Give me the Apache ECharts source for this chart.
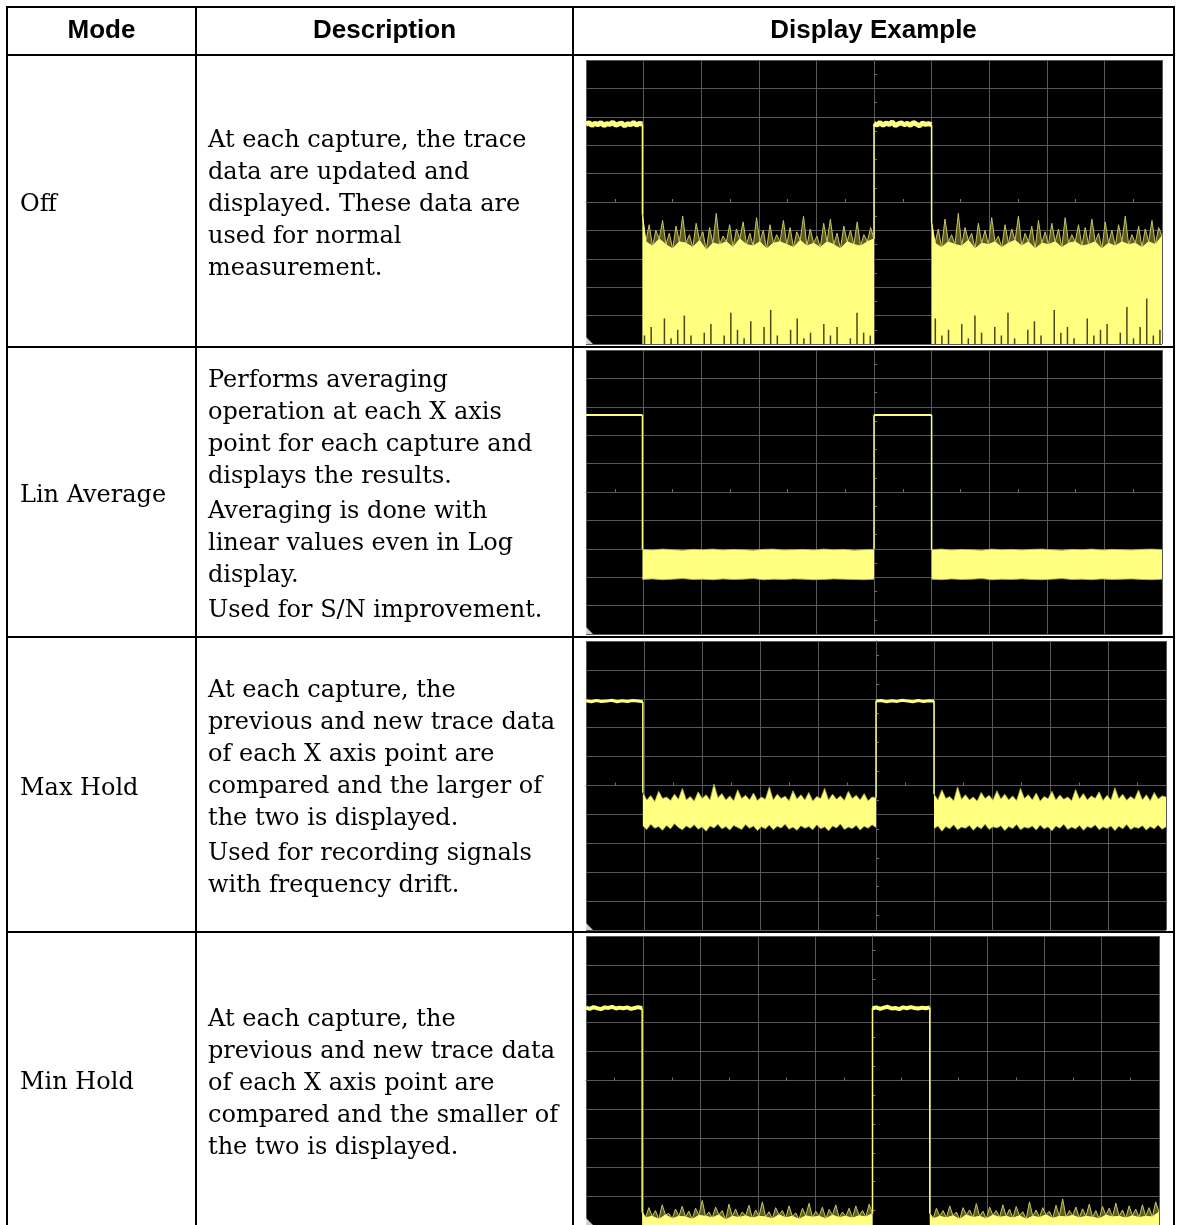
<!DOCTYPE html>
<html>
<head>
<meta charset="utf-8">
<script src="https://cdn.jsdelivr.net/npm/echarts@6.0.0/dist/echarts.min.js"></script>
<style>
html,body{margin:0;padding:0;background:#fff;}
#main{width:1179px;height:1225px;}
</style>
</head>
<body>
<div id="main"></div>
<script>
// ---- table text ----
var headers = ['Mode', 'Description', 'Display Example'];
var modes = ['Off', 'Lin Average', 'Max Hold', 'Min Hold'];
var descriptions = [
  [['At each capture, the trace', 'data are updated and', 'displayed. These data are', 'used for normal', 'measurement.']],
  [['Performs averaging', 'operation at each X axis', 'point for each capture and', 'displays the results.'],
   ['Averaging is done with', 'linear values even in Log', 'display.'],
   ['Used for S/N improvement.']],
  [['At each capture, the', 'previous and new trace data', 'of each X axis point are', 'compared and the larger of', 'the two is displayed.'],
   ['Used for recording signals', 'with frequency drift.']],
  [['At each capture, the', 'previous and new trace data', 'of each X axis point are', 'compared and the smaller of', 'the two is displayed.']]
];

// ---- trace data, in screen divisions (x: 0..10 left->right, y: 0..10 bottom->top) ----
var pulseEdges = [0.98, 5.0, 6.0];   // fall, rise, fall

var offHighA = [7.74,7.79,7.7,7.77,7.72,7.8,7.69,7.76,7.73,7.81,7.7,7.75,7.78,7.68,7.76,7.72,7.8,7.71,7.77,7.74];
var offHighB = [7.76,7.71,7.8,7.7,7.78,7.73,7.82,7.69,7.75,7.79,7.72,7.77,7.7,7.8,7.74,7.68,7.78,7.73,7.76,7.72];
var offNoiseA = [4.55,3.6,4.2,3.45,4.0,3.7,4.35,3.5,3.9,3.35,4.15,3.6,4.5,3.55,3.85,3.4,4.25,3.65,3.95,3.3,4.1,3.55,4.6,3.5,3.8,3.6,4.2,3.4,4.05,3.7,4.3,3.5,3.9,3.45,4.45,3.6,4.0,3.35,4.2,3.55,3.85,3.6,4.35,3.5,4.1,3.4,3.95,3.65,4.5,3.45,4.05,3.55,3.8,3.4,4.25,3.6,4.4,3.5,3.9,3.35,4.15,3.6,4.0,3.5,4.3,3.45,3.85,3.6,4.1,3.7];
var offNoiseB = [4.3,3.55,4.05,3.4,4.4,3.6,3.85,3.5,4.6,3.45,4.1,3.65,3.9,3.35,4.25,3.55,4.0,3.5,4.45,3.6,3.8,3.4,4.2,3.55,4.05,3.65,4.5,3.45,3.9,3.6,4.15,3.35,4.35,3.55,3.95,3.5,4.25,3.6,4.05,3.4,4.45,3.55,3.85,3.6,4.2,3.45,4.1,3.5,4.4,3.6,3.9,3.35,4.3,3.55,4.0,3.45,4.2,3.6,4.5,3.5,3.85,3.55,4.15,3.4,4.05,3.6,4.35,3.5,4.1,3.8];
var offDipsA = [0.3,0.6,0,0.9,0.2,0.5,1.0,0.3,0,0.4,0.7,0,0.3,1.1,0.5,0.2,0.8,0,0.6,1.2,0.3,0,0.5,0.9,0.2,0.4,0,0.7,0.3,0.6,0,0.2,1.1,0.4,0.3];
var offDipsB = [0.9,0.3,0.5,0,0.7,0.2,1.0,0.4,0,0.6,0.3,1.1,0.2,0,0.5,0.8,0.3,0,1.2,0.4,0.6,0.2,0,0.9,0.3,0.5,0.7,0,0.4,1.3,0.2,0.6,1.6,0.3,0.5];

var linHighA = [7.71, 7.71];
var linHighB = [7.71, 7.71];
var linUpperA = [2.98,2.96,2.99,2.97,2.95,2.98,2.97,2.99,2.96,2.98,2.97,2.95,2.98,2.99,2.96,2.97,2.98,2.96,2.99,2.97,2.98,2.95,2.97,2.98];
var linLowerA = [1.92,1.94,1.91,1.93,1.95,1.92,1.93,1.91,1.94,1.92,1.93,1.95,1.91,1.93,1.92,1.94,1.93,1.91,1.92,1.94,1.93,1.92,1.91,1.93];
var linUpperB = [2.97,2.99,2.96,2.98,2.97,2.95,2.99,2.97,2.98,2.96,2.98,2.99,2.97,2.95,2.98,2.97,2.99,2.96,2.98,2.97,2.96,2.98,2.99,2.97];
var linLowerB = [1.93,1.91,1.94,1.92,1.93,1.95,1.91,1.93,1.92,1.94,1.92,1.91,1.93,1.95,1.92,1.93,1.91,1.94,1.92,1.93,1.94,1.92,1.91,1.93];

var maxHighA = [7.93,7.9,7.94,7.91,7.92,7.95,7.9,7.93,7.91,7.94,7.92,7.9];
var maxHighB = [7.92,7.94,7.9,7.93,7.91,7.95,7.92,7.9,7.94,7.91,7.93,7.92];
var maxUpperA = [4.75,4.5,4.65,4.45,4.8,4.55,4.6,4.48,4.7,4.52,4.9,4.5,4.62,4.46,4.78,4.55,4.68,4.5,5.05,4.58,4.72,4.5,4.64,4.47,4.85,4.55,4.66,4.5,4.74,4.48,4.6,4.52,4.95,4.5,4.7,4.55,4.63,4.47,4.82,4.53,4.68,4.5,4.76,4.46,4.62,4.55,4.9,4.5,4.7,4.52,4.64,4.48,4.8,4.55,4.66,4.5,4.72,4.47,4.6,4.58];
var maxLowerA = [3.6,3.48,3.66,3.52,3.58,3.45,3.62,3.5,3.68,3.55,3.47,3.6,3.52,3.64,3.49,3.57,3.42,3.6,3.53,3.66,3.5,3.58,3.46,3.62,3.55,3.48,3.65,3.52,3.6,3.44,3.57,3.5,3.63,3.47,3.59,3.53,3.66,3.49,3.56,3.45,3.61,3.52,3.58,3.47,3.64,3.5,3.57,3.43,3.6,3.53,3.67,3.48,3.56,3.51,3.62,3.46,3.59,3.52,3.64,3.55];
var maxUpperB = [4.7,4.5,4.85,4.55,4.62,4.47,4.95,4.52,4.68,4.5,4.6,4.46,4.76,4.55,4.66,4.49,4.82,4.53,4.7,4.5,4.64,4.48,4.9,4.55,4.68,4.5,4.74,4.46,4.62,4.54,4.8,4.5,4.67,4.52,4.6,4.47,4.86,4.53,4.72,4.5,4.64,4.55,4.78,4.48,4.66,4.5,4.92,4.54,4.7,4.49,4.62,4.52,4.84,4.5,4.68,4.47,4.76,4.53,4.64,4.6];
var maxLowerB = [3.5,3.6,3.42,3.58,3.5,3.64,3.47,3.56,3.52,3.62,3.45,3.59,3.5,3.66,3.48,3.57,3.53,3.61,3.44,3.58,3.51,3.65,3.47,3.56,3.52,3.6,3.46,3.63,3.5,3.57,3.43,3.6,3.52,3.66,3.48,3.56,3.5,3.62,3.45,3.58,3.53,3.64,3.47,3.57,3.51,3.6,3.44,3.59,3.5,3.65,3.48,3.56,3.52,3.61,3.46,3.58,3.5,3.63,3.49,3.57];

var minHighA = [7.52,7.48,7.54,7.5,7.47,7.53,7.51,7.55,7.49,7.52,7.5,7.53,7.48,7.51,7.54,7.5];
var minHighB = [7.5,7.53,7.48,7.52,7.55,7.49,7.51,7.47,7.53,7.5,7.54,7.51,7.49,7.52,7.5,7.53];
var minNoiseA = [0.45,0.25,0.6,0.3,0.5,0.2,0.7,0.35,0.4,0.22,0.55,0.3,0.65,0.28,0.48,0.2,0.58,0.33,0.85,0.3,0.45,0.25,0.62,0.35,0.5,0.18,0.72,0.3,0.55,0.26,0.45,0.32,0.68,0.24,0.52,0.3,0.8,0.28,0.46,0.22,0.6,0.35,0.5,0.25,0.66,0.3,0.42,0.2,0.58,0.32,0.75,0.27,0.48,0.3,0.62,0.22,0.54,0.34,0.7,0.26,0.45,0.3,0.58,0.24,0.66,0.32,0.5,0.28,0.72,0.4];
var minNoiseB = [0.4,0.22,0.58,0.3,0.5,0.25,0.66,0.32,0.45,0.2,0.6,0.35,0.52,0.26,0.74,0.3,0.48,0.22,0.62,0.34,0.5,0.27,0.7,0.3,0.55,0.24,0.64,0.32,0.46,0.2,0.8,0.3,0.52,0.26,0.6,0.35,0.48,0.23,0.68,0.3,0.9,0.28,0.5,0.33,0.62,0.25,0.56,0.3,0.72,0.27,0.5,0.22,0.64,0.34,0.58,0.28,0.76,0.3,0.52,0.24,0.66,0.32,0.55,0.26,0.7,0.3,0.6,0.28,0.8,0.45];

// ---- layout ----
var colX = [7, 196, 573, 1174];
var rowY = [7, 55, 347, 637, 932];
var labelBase = [212, 503, 796, 1090];
var descBase = [148, 388, 698, 1027];
var panels = [
  {left: 586, top: 60, width: 576, height: 284, hiWidth: 5},
  {left: 586, top: 350, width: 576, height: 284, hiWidth: 2},
  {left: 586, top: 641, width: 580, height: 289, hiWidth: 3},
  {left: 586, top: 936, width: 573, height: 289, hiWidth: 4}
];

var YELLOW = '#ffff80';
var SPIKE = '#c8c65a';
var SPIKEFILL = '#5e5c24';
var OLIVE = '#b3b14e';
var GRIDC = '#585858';
var serif = '24px "DejaVu Serif"';

function spread(x0, x1, arr) {
  return arr.map(function (v, k) { return [x0 + (x1 - x0) * k / (arr.length - 1), v]; });
}
function odd(pts) { return pts.filter(function (p, k) { return k % 2 === 1; }); }

var chart = echarts.init(document.getElementById('main'));

// table lines + text
var graphic = [];
colX.forEach(function (x) {
  graphic.push({type: 'line', shape: {x1: x, y1: rowY[0] - 1, x2: x, y2: 1225}, style: {stroke: '#000', lineWidth: 2}});
});
rowY.forEach(function (y) {
  graphic.push({type: 'line', shape: {x1: colX[0] - 1, y1: y, x2: colX[3] + 1, y2: y}, style: {stroke: '#000', lineWidth: 2}});
});
headers.forEach(function (h, i) {
  graphic.push({type: 'text', x: (colX[i] + colX[i + 1]) / 2, y: 31,
    style: {text: h, font: 'bold 26px "Liberation Sans"', fill: '#000', align: 'center', verticalAlign: 'middle'}});
});
modes.forEach(function (m, i) {
  graphic.push({type: 'text', x: 20, y: labelBase[i] - 7,
    style: {text: m, font: serif, fill: '#000', align: 'left', verticalAlign: 'middle'}});
});
descriptions.forEach(function (paras, i) {
  var y = descBase[i];
  paras.forEach(function (lines, p) {
    if (p > 0) y += 3;
    lines.forEach(function (ln) {
      graphic.push({type: 'text', x: 208, y: y - 7,
        style: {text: ln, font: serif, fill: '#000', align: 'left', verticalAlign: 'middle'}});
      y += 32;
    });
  });
});

var grids = [], xAxes = [], yAxes = [], series = [];
panels.forEach(function (p, i) {
  grids.push({left: p.left, top: p.top, width: p.width, height: p.height, show: true,
    backgroundColor: '#000', borderWidth: 0, outerBoundsMode: 'none'});
  var main = {type: 'value', gridIndex: i, min: 0, max: 10, interval: 1,
    axisLine: {show: false}, axisTick: {show: false}, axisLabel: {show: false},
    splitLine: {show: true, lineStyle: {color: GRIDC, width: 1}}};
  var center = function (other) {
    return {type: 'value', gridIndex: i, min: -5, max: 5, interval: 1,
      axisLine: {show: true, onZero: true, onZeroAxisIndex: other, lineStyle: {color: GRIDC, width: 1}},
      axisTick: {show: false}, axisLabel: {show: false}, splitLine: {show: false},
      minorTick: {show: true, splitNumber: 2, length: 3, lineStyle: {color: '#707070'}}};
  };
  xAxes.push(main, center(2 * i + 1));
  yAxes.push(Object.assign({}, main), center(2 * i + 1));
});

function addLine(i, data, color, width, extra) {
  series.push(Object.assign({type: 'line', xAxisIndex: 2 * i, yAxisIndex: 2 * i, data: data,
    symbol: 'none', showSymbol: false, animation: false, silent: true,
    lineStyle: {color: color, width: width}, z: 3}, extra || {}));
}

var fall = pulseEdges[0], rise = pulseEdges[1], fall2 = pulseEdges[2];

// pulses: thick high level, thin vertical edges down into the noise
function pulses(i, hiA, hiB, lowA0, lowA1, lowB0) {
  var w = panels[i].hiWidth;
  addLine(i, [[fall, hiA[hiA.length - 1]], [fall, lowA0]], YELLOW, 1.5);
  addLine(i, [[rise, lowA1], [rise, hiB[0]]], YELLOW, 1.5);
  addLine(i, [[fall2, hiB[hiB.length - 1]], [fall2, lowB0]], YELLOW, 1.5);
  addLine(i, spread(0, fall, hiA), YELLOW, w);
  addLine(i, spread(rise, fall2, hiB), YELLOW, w);
}

// noise from the bottom: solid floor through the valleys, thin spikes above
function floorNoise(i, arr, x0, x1) {
  var pts = spread(x0, x1, arr);
  addLine(i, pts, SPIKE, 1, {areaStyle: {color: SPIKEFILL, opacity: 1, origin: 'start'}, z: 3});
  addLine(i, [[x0, arr[0]]].concat(odd(pts)).concat([[x1, arr[arr.length - 1]]]), YELLOW, 1,
    {areaStyle: {color: YELLOW, opacity: 1, origin: 'start'}, z: 4});
}

// band between two edges: one polygon built through the axes
function band(i, lo, up, x0, x1) {
  var lp = spread(x0, x1, lo), up2 = spread(x0, x1, up);
  var data = lp.map(function (p, k) { return [p[0], lo[k], up[k]]; });
  series.push({type: 'custom', xAxisIndex: 2 * i, yAxisIndex: 2 * i, data: data,
    encode: {x: 0, y: [1, 2]}, silent: true, animation: false, z: 3,
    renderItem: function (params, api) {
      if (params.dataIndexInside !== 0) return null;
      var n = params.dataInsideLength, top = [], bot = [];
      for (var k = 0; k < n; k++) {
        top.push(api.coord([api.value(0, k), api.value(2, k)]));
        bot.push(api.coord([api.value(0, k), api.value(1, k)]));
      }
      return {type: 'polygon', shape: {points: top.concat(bot.reverse())}, style: {fill: YELLOW}};
    }});
  addLine(i, up2, OLIVE, 0.8, {z: 4});
  addLine(i, lp, OLIVE, 0.8, {z: 4});
}

// Off
pulses(0, offHighA, offHighB, offNoiseA[0], offNoiseA[offNoiseA.length - 1], offNoiseB[0]);
floorNoise(0, offNoiseA, fall, rise);
floorNoise(0, offNoiseB, fall2, 10);
[[fall, rise, offDipsA], [fall2, 10, offDipsB]].forEach(function (d) {
  series.push({type: 'bar', xAxisIndex: 0, yAxisIndex: 0, barWidth: 1.5, animation: false, silent: true, z: 5,
    itemStyle: {color: '#4a4818'},
    data: spread(d[0] + 0.05, d[1] - 0.05, d[2]).filter(function (pt) { return pt[1] > 0; })});
});

// Lin Average
pulses(1, linHighA, linHighB, linUpperA[0], linUpperA[linUpperA.length - 1], linUpperB[0]);
band(1, linLowerA, linUpperA, fall, rise);
band(1, linLowerB, linUpperB, fall2, 10);

// Max Hold
pulses(2, maxHighA, maxHighB, maxUpperA[0], maxUpperA[maxUpperA.length - 1], maxUpperB[0]);
band(2, maxLowerA, maxUpperA, fall, rise);
band(2, maxLowerB, maxUpperB, fall2, 10);

// Min Hold
pulses(3, minHighA, minHighB, minNoiseA[0], minNoiseA[minNoiseA.length - 1], minNoiseB[0]);
floorNoise(3, minNoiseA, fall, rise);
floorNoise(3, minNoiseB, fall2, 10);

// corner marker of each screen
panels.forEach(function (p, i) {
  series.push({type: 'scatter', xAxisIndex: 2 * i, yAxisIndex: 2 * i, data: [[0, 0]],
    symbol: 'path://M0,0 L0,10 L10,10 Z', symbolSize: 7, symbolOffset: [3.5, -3.5],
    itemStyle: {color: '#fff'}, clip: false, silent: true, animation: false, z: 6});
});

chart.setOption({
  backgroundColor: '#fff',
  animation: false,
  grid: grids,
  xAxis: xAxes,
  yAxis: yAxes,
  series: series,
  graphic: graphic
});
</script>
</body>
</html>
